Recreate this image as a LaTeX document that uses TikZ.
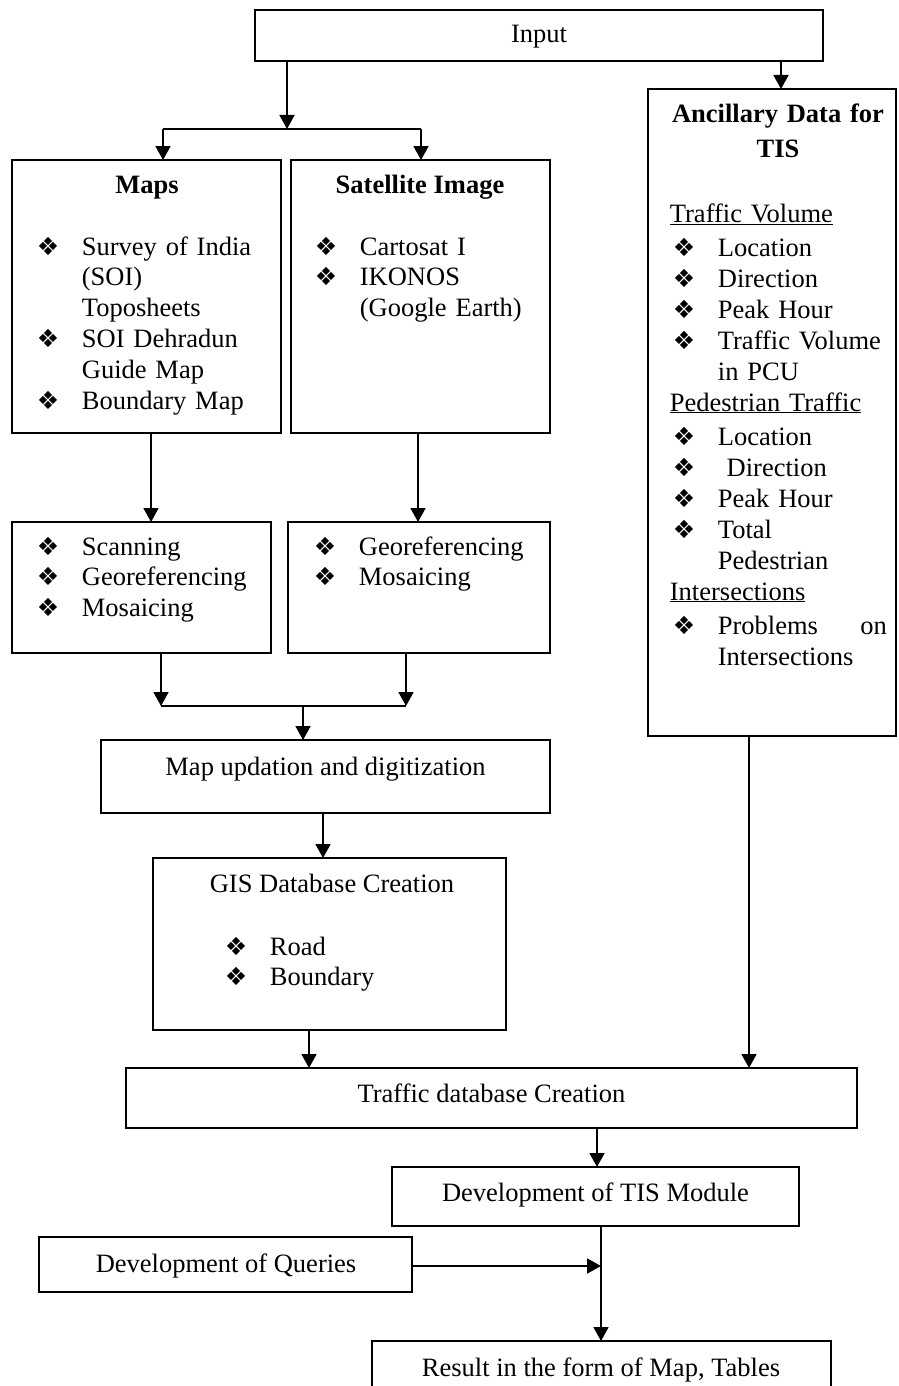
\documentclass[tikz,border=0pt]{standalone}
\usepackage{fontspec}
\setmainfont{Liberation Serif}
\newfontfamily\dejavu{DejaVu Sans}
\usetikzlibrary{arrows.meta}

\newcommand{\bul}{{\dejavu\fontsize{25}{25}\selectfont\symbol{"2756}}}
\newcommand{\itm}[1]{\makebox[45pt][l]{\bul}#1}
\newcommand{\cont}[1]{\hspace*{45pt}#1}
\newcommand{\aitm}[1]{\makebox[48pt][l]{\hspace{3pt}\bul}#1}
\newcommand{\acont}[1]{\hspace*{48pt}#1}

\begin{document}
\begin{tikzpicture}[x=1pt, y=-1pt, line width=1.8pt,
    >={Triangle[length=14pt,width=15pt]},
    box/.style={rectangle, draw, anchor=north west, inner sep=0pt, outer sep=0pt},
    lbl/.style={anchor=base, inner sep=0pt, font=\fontsize{26.5}{30.8}\selectfont},
    hd/.style={anchor=base, inner sep=0pt, font=\fontsize{26.5}{30.8}\selectfont\bfseries},
    lst/.style={anchor=base west, inner sep=0pt, text width=#1, align=left, font=\fontsize{26.5}{30.8}\selectfont}]

    \clip (0,0) rectangle (898,1386);

    \node[box, minimum width=568pt, minimum height=51pt] (input) at (255,10) {};
    \node[box, minimum width=269pt, minimum height=273pt] (maps) at (12,160) {};
    \node[box, minimum width=259pt, minimum height=273pt] (sat) at (291,160) {};
    \node[box, minimum width=248pt, minimum height=647pt] (anc) at (648,89) {};
    \node[box, minimum width=259pt, minimum height=131pt] (scan) at (12,522) {};
    \node[box, minimum width=262pt, minimum height=131pt] (geo) at (288,522) {};
    \node[box, minimum width=449pt, minimum height=73pt] (upd) at (101,740) {};
    \node[box, minimum width=353pt, minimum height=172pt] (gis) at (153,858) {};
    \node[box, minimum width=731pt, minimum height=60pt] (tdb) at (126,1068) {};
    \node[box, minimum width=407pt, minimum height=59pt] (tis) at (392,1167) {};
    \node[box, minimum width=373pt, minimum height=55pt] (qry) at (39,1237) {};
    \node[box, minimum width=459pt, minimum height=80pt] (res) at (372,1341) {};

    \node[lbl] (inputT) at (539,43) {Input};
    \node[hd] (mapsT) at (147,193) {Maps};
    \node[lst=240pt] (mapsL) at (36,255) {\itm{Survey of India}\\ \cont{(SOI)}\\ \cont{Toposheets}\\
        \itm{SOI Dehradun}\\ \cont{Guide Map}\\ \itm{Boundary Map}};
    \node[hd] (satT) at (420,193) {Satellite Image};
    \node[lst=230pt] (satL) at (314,255) {\itm{Cartosat I}\\ \itm{IKONOS}\\ \cont{(Google Earth)}};
    \node[hd, text width=248pt, align=center] (ancT) at (778,123) {Ancillary Data for\\[4pt] TIS};
    \node[lst=217pt, font=\fontsize{26.5}{31}\selectfont] (ancL) at (669,222) {\underline{Traffic Volume}\\[3pt]
        \aitm{Location}\\ \aitm{Direction}\\ \aitm{Peak Hour}\\ \aitm{Traffic Volume}\\ \acont{in PCU}\\
        \underline{Pedestrian Traffic}\\[3pt]
        \aitm{Location}\\ \aitm{\ Direction}\\ \aitm{Peak Hour}\\ \aitm{Total}\\ \acont{Pedestrian}\\
        \underline{Intersections}\\[3pt]
        \aitm{Problems\hfill on}\\ \acont{Intersections}};
    \node[lst=230pt] (scanL) at (36,555) {\itm{Scanning}\\ \itm{Georeferencing}\\ \itm{Mosaicing}};
    \node[lst=230pt] (geoL) at (313,555) {\itm{Georeferencing}\\ \itm{Mosaicing}};
    \node[lbl] (updT) at (325.5,775) {Map updation and digitization};
    \node[lbl] (gisT) at (332,892) {GIS Database Creation};
    \node[lst=260pt] (gisL) at (224,955) {\itm{Road}\\ \itm{Boundary}};
    \node[lbl] (tdbT) at (491.5,1102) {Traffic database Creation};
    \node[lbl] (tisT) at (595.5,1201) {Development of TIS Module};
    \node[lbl] (qryT) at (226,1272) {Development of Queries};
    \node[lbl] (resT) at (601,1376) {Result in the form of Map, Tables};

    \coordinate (sp) at (287,129);
    \coordinate (bl) at (163,129);
    \coordinate (br) at (421,129);
    \coordinate (xa) at (781,0);
    \coordinate (xm) at (151,0);
    \coordinate (xs) at (418,0);
    \coordinate (jl) at (161,706);
    \coordinate (jr) at (406,706);
    \coordinate (jm) at (303,706);
    \coordinate (xu) at (323,0);
    \coordinate (xg) at (309,0);
    \coordinate (xd) at (749,0);
    \coordinate (xt) at (597,0);
    \coordinate (xr) at (601,0);
    \coordinate (qj) at (601,1266);

    \draw[->] (input.south -| sp) -- (sp);
    \draw (bl) -- (br);
    \draw[->] (bl) -- (bl |- maps.north);
    \draw[->] (br) -- (br |- sat.north);
    \draw[->] (input.south -| xa) -- (anc.north -| xa);
    \draw[->] (maps.south -| xm) -- (scan.north -| xm);
    \draw[->] (sat.south -| xs) -- (geo.north -| xs);
    \draw[->] (scan.south -| jl) -- (jl);
    \draw[->] (geo.south -| jr) -- (jr);
    \draw (jl) -- (jr);
    \draw[->] (jm) -- (upd.north -| jm);
    \draw[->] (upd.south -| xu) -- (gis.north -| xu);
    \draw[->] (gis.south -| xg) -- (tdb.north -| xg);
    \draw[->] (anc.south -| xd) -- (tdb.north -| xd);
    \draw[->] (tdb.south -| xt) -- (tis.north -| xt);
    \draw[->] (tis.south -| xr) -- (res.north -| xr);
    \draw[->] (qry.east |- qj) -- (qj);
\end{tikzpicture}
\end{document}
